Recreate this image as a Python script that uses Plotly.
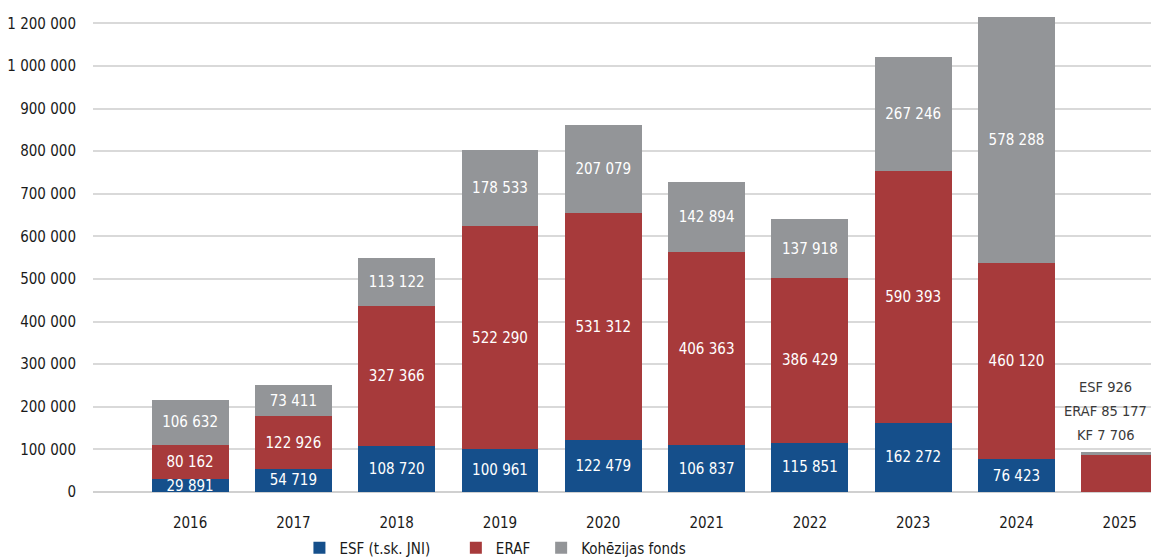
import plotly.graph_objects as go

years = ["2016", "2017", "2018", "2019", "2020", "2021", "2022", "2023", "2024", "2025"]

# values printed on the bars
esf_labels = [29891, 54719, 108720, 100961, 122479, 106837, 115851, 162272, 76423, 926]
eraf_labels = [80162, 122926, 327366, 522290, 531312, 406363, 386429, 590393, 460120, 85177]
kf_labels = [106632, 73411, 113122, 178533, 207079, 142894, 137918, 267246, 578288, 7706]

# bar heights as drawn (2021 is drawn taller than its printed values)
esf = [29891, 54719, 108720, 100961, 122479, 110000, 115851, 162272, 76423, 926]
eraf = [80162, 122926, 327366, 522290, 531312, 453000, 386429, 590393, 460120, 85177]
kf = [106632, 73411, 113122, 178533, 207079, 165000, 137918, 267246, 578288, 7706]

tick_vals = [0, 100000, 200000, 300000, 400000, 500000, 600000, 700000, 800000, 900000, 1000000, 1100000]
tick_text = ["0", "100 000", "200 000", "300 000", "400 000", "500 000", "600 000", "700 000",
             "800 000", "900 000", "1 000 000", "1 200 000"]

names = ["ESF (t.sk. JNI)", "ERAF", "Kohēzijas fonds"]
short_names = ["ESF", "ERAF", "KF"]
colors = ["#154f8b", "#a73a3b", "#939598"]
legend_ids = ["legend", "legend2", "legend3"]
legend_x = [0.2532, 0.3891, 0.4632]

FONT = "DejaVu Sans Condensed, Liberation Sans Narrow, Roboto, sans-serif"


def fmt(v):
    return f"{v:,}".replace(",", " ")


fig = go.Figure()
for name, vals, labs, col, lid in zip(names, [esf, eraf, kf], [esf_labels, eraf_labels, kf_labels],
                                      colors, legend_ids):
    txt = [fmt(v) if y != "2025" else "" for v, y in zip(labs, years)]
    fig.add_trace(go.Bar(
        x=years, y=vals, name=name, legend=lid, marker=dict(color=col, line=dict(width=0)),
        text=txt, textposition="inside", insidetextanchor="middle",
        textfont=dict(color="white", size=15, family=FONT),
        width=0.745, cliponaxis=False, hoverinfo="skip",
    ))

# stacked label above the small 2025 bar
i25 = years.index("2025")
total_2025 = esf[i25] + eraf[i25] + kf[i25]
for k, (sn, labs) in enumerate(zip(short_names, [esf_labels, eraf_labels, kf_labels])):
    fig.add_annotation(
        x=i25, y=total_2025, xref="x", yref="y", yanchor="middle",
        yshift=17 + 24 * (2 - k), xshift=-14, showarrow=False,
        text=f"{sn} {fmt(labs[i25])}",
        font=dict(size=14.5, color="#3a3a3a", family=FONT), align="center",
    )

legend_common = dict(orientation="h", xref="container", xanchor="left", yref="container",
                     y=0.0164, yanchor="middle", font=dict(size=15, color="#1a1a1a"),
                     bgcolor="rgba(0,0,0,0)")

fig.update_layout(
    barmode="stack", bargap=0.255,
    width=1151, height=549,
    margin=dict(l=85, r=0, t=0, b=65),
    plot_bgcolor="white", paper_bgcolor="white",
    font=dict(family=FONT, size=15, color="#1a1a1a"),
    uniformtext=dict(minsize=15, mode="show"),
    showlegend=True,
    legend=dict(x=legend_x[0], **legend_common),
    legend2=dict(x=legend_x[1], **legend_common),
    legend3=dict(x=legend_x[2], **legend_common),
    xaxis=dict(type="category", range=[-0.94, 9.38], showgrid=False, zeroline=False,
               showline=False, ticks="", tickfont=dict(size=15), automargin=False,
               ticklabelstandoff=20),
    yaxis=dict(range=[0, 1136000], tickvals=tick_vals, ticktext=tick_text,
               showgrid=True, gridcolor="#d9d9d9", gridwidth=1.5, zeroline=True,
               zerolinecolor="#d0d0d0", zerolinewidth=1.5, showline=False,
               ticks="", ticklabelstandoff=16, tickfont=dict(size=15), automargin=False),
)

fig.write_html("out.html")
